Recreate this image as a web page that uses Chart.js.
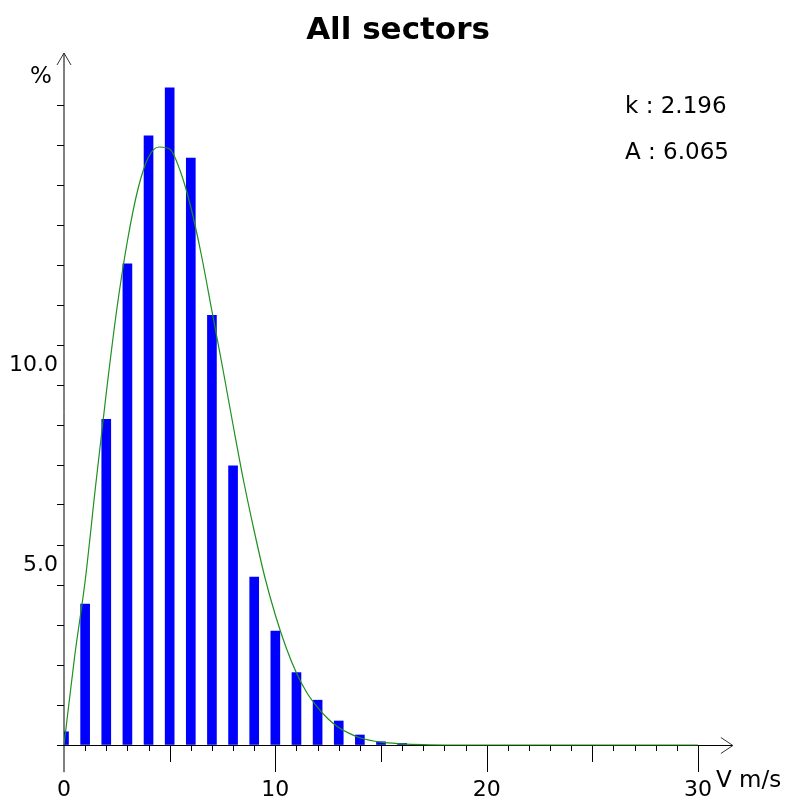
<!DOCTYPE html>
<html><head><meta charset="utf-8">
<script src="https://cdn.jsdelivr.net/npm/chart.js@4.4.1/dist/chart.umd.min.js"></script>
<style>html,body{margin:0;padding:0;background:#fff;overflow:hidden}#wrap{width:787px;height:801px;position:relative}</style>
</head><body><div id="wrap"><canvas id="c" width="787" height="801"></canvas></div>
<script>
// ---- data ----
const titleText = 'All sectors';
const yAxisTitle = '%';
const xAxisTitle = 'V m/s';
const fitLabels = ['k : 2.196', 'A : 6.065'];
const speedBins = [0, 1, 2, 3, 4, 5, 6, 7, 8, 9, 10, 11, 12, 13, 14, 15, 16];
const frequencies = [0.33, 3.52, 8.14, 12.03, 15.23, 16.43, 14.67, 10.74, 6.98, 4.2, 2.85, 1.81, 1.12, 0.6, 0.25, 0.08, 0.04];
const curveSpeeds = [0, 0.5, 1, 1.5, 2, 2.5, 3, 3.5, 4, 4.5, 5, 5.5, 6, 6.5, 7, 7.5, 8, 8.5, 9, 9.5, 10, 10.5, 11, 11.5, 12, 12.5, 13, 13.5, 14, 15, 16, 17, 18, 30];
const curveValues = [0, 2.2, 4.1, 6.5, 8.8, 10.9, 12.6, 13.9, 14.7, 14.95, 14.9, 14.35, 13.45, 12.25, 10.85, 9.45, 8.0, 6.6, 5.35, 4.2, 3.25, 2.45, 1.8, 1.3, 0.94, 0.65, 0.44, 0.29, 0.18, 0.07, 0.03, 0.01, 0, 0];
const xTickValues = [0, 10, 20, 30];
const xTickText = ['0', '10', '20', '30'];
const yTickValues = [5, 10];
const yTickText = ['5.0', '10.0'];

const FONT = "'DejaVu Sans', Verdana, sans-serif";

const decor = {
  id: 'decor',
  beforeDatasetsDraw(chart) {
    const ctx = chart.ctx, xs = chart.scales.x, ys = chart.scales.y;
    const x0 = xs.getPixelForValue(0), y0 = ys.getPixelForValue(0);
    ctx.save();
    // y axis
    ctx.strokeStyle = '#000';
    ctx.lineWidth = 1;
    const yTop = ys.getPixelForValue(17.3), yBot = ys.getPixelForValue(-0.68);
    ctx.beginPath(); ctx.moveTo(x0, yBot); ctx.lineTo(x0, yTop); ctx.stroke();
    // y arrow
    ctx.strokeStyle = '#333';
    ctx.beginPath(); ctx.moveTo(x0 - 7, yTop + 12); ctx.lineTo(x0, yTop); ctx.lineTo(x0 + 7, yTop + 12); ctx.stroke();
    // x axis
    ctx.strokeStyle = '#000';
    const xl = xs.getPixelForValue(-0.33), xr = xs.getPixelForValue(31.65);
    const ya = y0 + 0.5;
    ctx.beginPath(); ctx.moveTo(xl, ya); ctx.lineTo(xr, ya); ctx.stroke();
    ctx.strokeStyle = '#333';
    ctx.beginPath(); ctx.moveTo(xr - 12, ya - 8); ctx.lineTo(xr, ya); ctx.lineTo(xr - 12, ya + 8); ctx.stroke();
    // x ticks
    ctx.strokeStyle = '#000';
    for (let v = 1; v <= 30; v++) {
      const px = Math.round(xs.getPixelForValue(v)) + 0.5;
      const len = v % 10 === 0 ? 27 : (v % 5 === 0 ? 17 : 6);
      ctx.beginPath(); ctx.moveTo(px, y0); ctx.lineTo(px, y0 + len); ctx.stroke();
    }
    ctx.restore();
  },
  afterDraw(chart) {
    const ctx = chart.ctx;
    ctx.save();
    ctx.fillStyle = '#000';
    ctx.textBaseline = 'alphabetic';
    ctx.textAlign = 'center';
    ctx.font = 'bold 31px ' + FONT;
    ctx.fillText(titleText, 398, 39);
    ctx.textAlign = 'left';
    ctx.font = '23px ' + FONT;
    ctx.fillText(yAxisTitle, 30, 83);
    ctx.fillText(fitLabels[0], 625, 113);
    ctx.fillText(fitLabels[1], 625, 159);
    ctx.fillText(xAxisTitle, 716, 787);
    ctx.restore();
  }
};

new Chart(document.getElementById('c'), {
  type: 'bar',
  data: {
    datasets: [
      {
        type: 'line',
        data: curveSpeeds.map((s, i) => ({ x: s, y: curveValues[i] })),
        borderColor: '#1f8f1f',
        borderWidth: 1.2,
        pointRadius: 0,
        cubicInterpolationMode: 'monotone',
        fill: false,
        clip: false,
        order: 0
      },
      {
        type: 'bar',
        data: speedBins.map((s, i) => ({ x: s, y: frequencies[i] })),
        backgroundColor: '#0000ff',
        borderWidth: 0,
        barThickness: 9,
        order: 1
      }
    ]
  },
  options: {
    responsive: false,
    animation: false,
    devicePixelRatio: 1,
    layout: { padding: { top: 65, right: 89, bottom: 0, left: 0 } },
    plugins: { legend: { display: false }, tooltip: { enabled: false }, title: { display: false } },
    scales: {
      x: {
        type: 'linear', min: 0, max: 30, offset: false,
        border: { display: false },
        grid: { display: false, drawTicks: false },
        afterBuildTicks(scale) { scale.ticks = xTickValues.map(v => ({ value: v })); },
        ticks: {
          autoSkip: false, maxRotation: 0, padding: 32, color: '#000',
          font: { family: FONT, size: 22 },
          callback(v) { const i = xTickValues.indexOf(v); return i >= 0 ? xTickText[i] : ''; }
        },
        afterFit(scale) { scale.height = 56; }
      },
      y: {
        type: 'linear', min: 0, max: 17,
        border: { display: false },
        grid: {
          drawOnChartArea: false, drawTicks: true, tickLength: 7, lineWidth: 1,
          color: (c) => (c.tick && c.tick.value >= 1 && c.tick.value <= 16) ? '#000' : 'rgba(0,0,0,0)'
        },
        ticks: {
          stepSize: 1, autoSkip: false, padding: -1, labelOffset: 20, color: '#000',
          font: { family: FONT, size: 22 },
          callback(v) { const i = yTickValues.indexOf(v); return i >= 0 ? yTickText[i] : ''; }
        },
        afterFit(scale) { scale.width = 64; }
      }
    }
  },
  plugins: [decor]
});
</script></body></html>
